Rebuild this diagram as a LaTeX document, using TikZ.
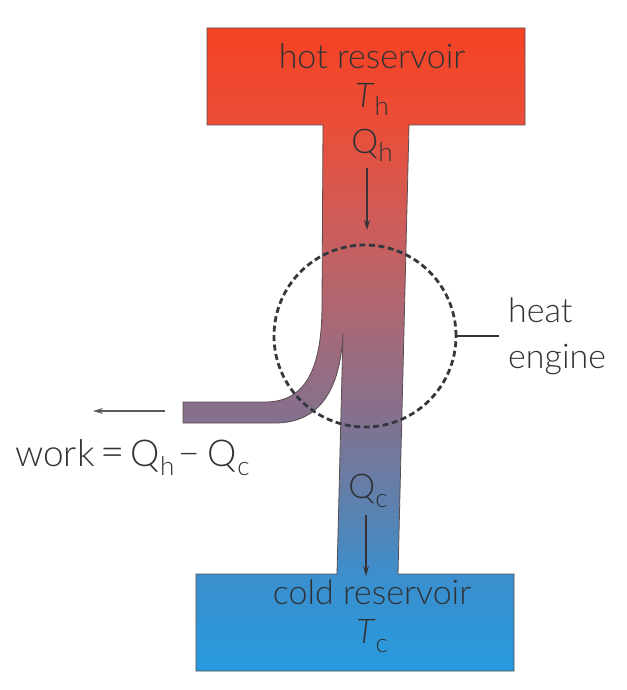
\documentclass[tikz,border=0pt]{standalone}
\usepackage{fontspec}
\setmainfont{Lato}[UprightFont=* Light, ItalicFont=* Light Italic]
\usetikzlibrary{arrows.meta}
\definecolor{txt}{HTML}{2F3336}
\definecolor{edge}{HTML}{5A4C50}
\definecolor{arr}{HTML}{3A3236}
\definecolor{dash}{HTML}{33383E}
\definecolor{c0}{RGB}{38,155,222}
\definecolor{c1}{RGB}{60,142,204}
\definecolor{c2}{RGB}{95,128,172}
\definecolor{c3}{RGB}{135,112,140}
\definecolor{c4}{RGB}{165,105,120}
\definecolor{c5}{RGB}{200,95,95}
\definecolor{c6}{RGB}{234,78,56}
\definecolor{c7}{RGB}{246,66,36}
\pgfdeclareverticalshading{tshade}{100bp}{color(0bp)=(c0); color(25bp)=(c0); color(32.5bp)=(c1); color(38.3bp)=(c2); color(45.3bp)=(c3); color(51.5bp)=(c4); color(58.5bp)=(c5); color(67.5bp)=(c6); color(75bp)=(c7); color(100bp)=(c7)}
\newcommand{\mysub}[1]{\raisebox{-9pt}{\fontsize{26}{26}\selectfont #1}}
\begin{document}
\begin{tikzpicture}[x=1pt,y=-1pt,
  lbl/.style={text=txt, font=\fontsize{34}{46}\selectfont, inner sep=0pt},
  flow/.style={draw=arr, line width=1.3pt, -{Stealth[length=10pt,width=6pt]}},
  engine/.style={circle, draw=dash, line width=2.8pt, dash pattern=on 6pt off 3.5pt, minimum size=182pt, inner sep=0pt}]
\useasboundingbox[fill=white] (0,0) rectangle (626,690);
% body of the engine
\shade[shading=tshade, draw=edge, line width=0.8pt]
  (207,28) -- (525,28) -- (525,125) -- (409,125) -- (398,574) -- (514,574)
  -- (514,671) -- (196,671) -- (196,574) -- (337,574) -- (343,333)
  .. controls (340,400) and (312,423) .. (275,423) -- (183,423) -- (183,402)
  -- (265,402) .. controls (305,402) and (322,370) .. (322,305) -- (323,125)
  -- (207,125) -- cycle;
% labels
\node[lbl, anchor=base] (hot) at (372,69) {hot reservoir};
\node[lbl, anchor=base] (Th) at (372,107) {\textit{T}\mysub{h}};
\node[lbl, anchor=base] (Qh) at (372,153) {Q\mysub{h}};
\node[lbl, anchor=base] (Qc) at (368,498) {Q\mysub{c}};
\node[lbl, anchor=base] (cold) at (372,604) {cold reservoir};
\node[lbl, anchor=base] (Tc) at (372,643) {\textit{T}\mysub{c}};
\node[lbl, anchor=base west, font=\fontsize{37}{46}\selectfont] (work) at (15,466) {work\hspace{6pt}{\fontsize{42}{46}\selectfont =}\hspace{6pt}Q\mysub{h}\hspace{4pt}−\hspace{8pt}Q\mysub{c}};
% heat engine circle
\node[engine] (eng) at (365,336) {};
\node[lbl, anchor=west, align=left, inner xsep=9pt] (he) at (499,336) {heat\\engine};
\draw[draw=txt, line width=1.2pt] (eng.east) -- (he.west);
% flows
\coordinate (qh1) at (367,168);
\coordinate (qh2) at (367,230);
\coordinate (qc1) at (366,515);
\coordinate (qc2) at (366,576);
\coordinate (w1) at (165,411);
\coordinate (w2) at (93,411);
\draw[flow] (qh1) -- (qh2);
\draw[flow] (qc1) -- (qc2);
\draw[flow, draw=txt!80] (w1) -- (w2);
\end{tikzpicture}
\end{document}
